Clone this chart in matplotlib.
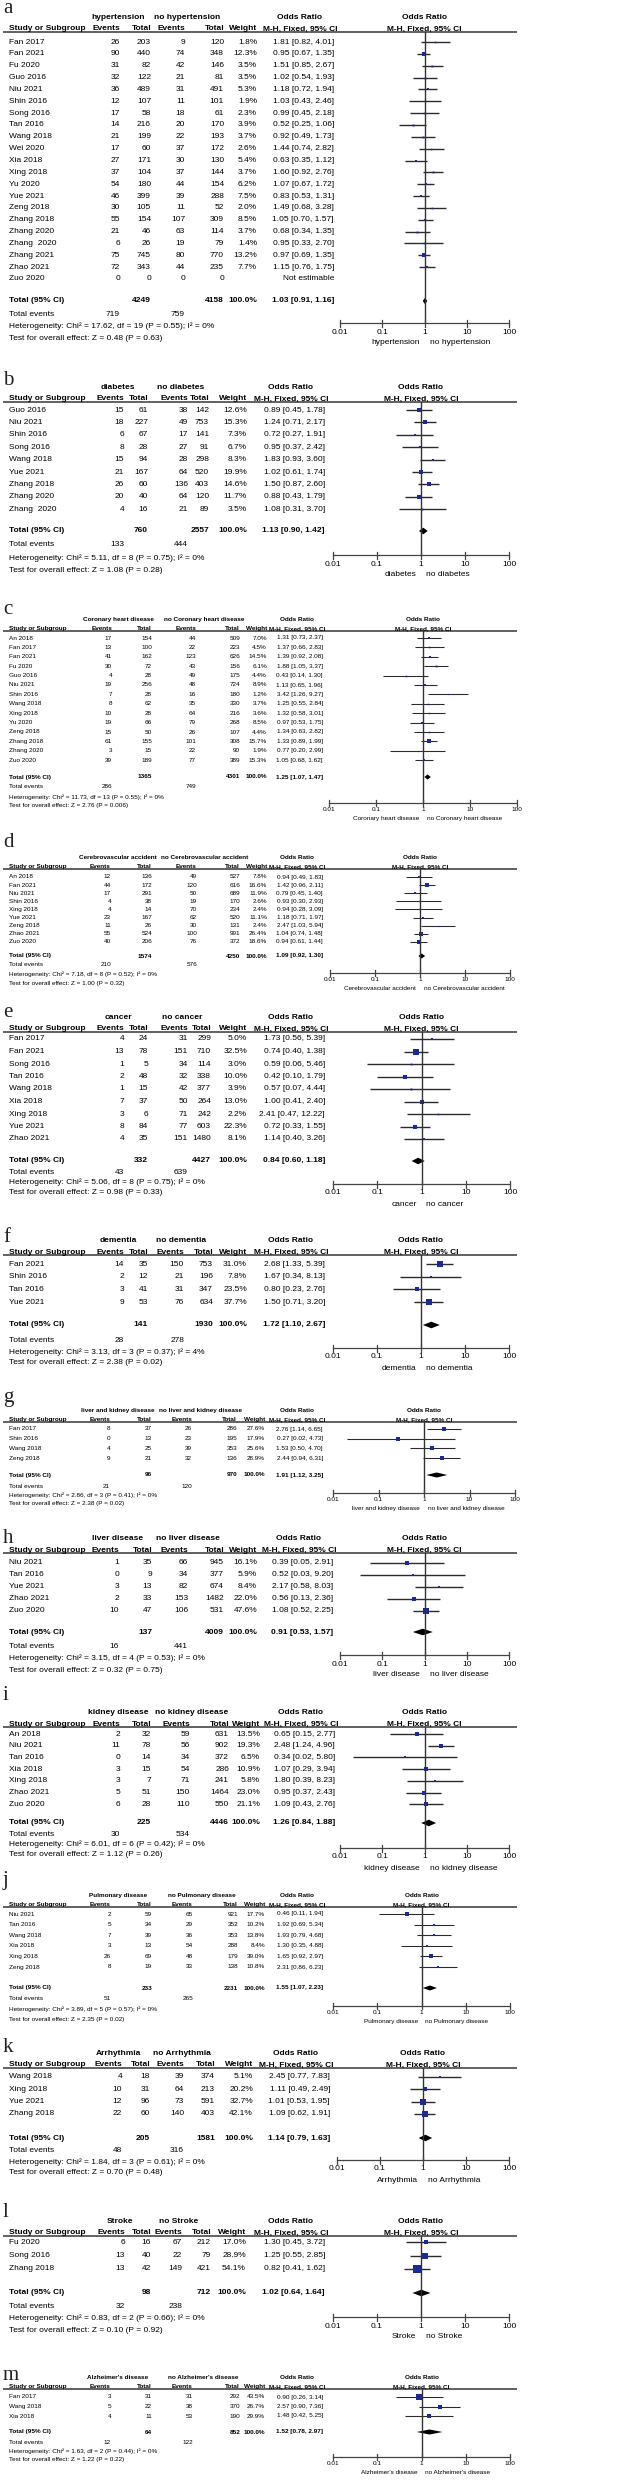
import numpy as np
import matplotlib
matplotlib.use("Agg")
import matplotlib.pyplot as plt
from matplotlib.transforms import offset_copy

W, H = 618, 2480
BLUE = "#1b2a9b"
LINE = "#2b2b2b"
TICKS = [0.01, 0.1, 1, 10, 100]
TICK_LABELS = ["0.01", "0.1", "1", "10", "100"]

# -------------------------------
# data, one block per panel
# row = study, events1, total1, events2, total2, weight %, OR, lower, upper
# -------------------------------
A_GROUPS = ("hypertension", "no hypertension")
A_ROWS = [
    ("Fan 2017", 26, 203, 9, 120, 1.8, 1.81, 0.82, 4.01),
    ("Fan 2021", 90, 440, 74, 348, 12.3, 0.95, 0.67, 1.35),
    ("Fu 2020", 31, 82, 42, 146, 3.5, 1.51, 0.85, 2.67),
    ("Guo 2016", 32, 122, 21, 81, 3.5, 1.02, 0.54, 1.93),
    ("Niu 2021", 36, 489, 31, 491, 5.3, 1.18, 0.72, 1.94),
    ("Shin 2016", 12, 107, 11, 101, 1.9, 1.03, 0.43, 2.46),
    ("Song 2016", 17, 58, 18, 61, 2.3, 0.99, 0.45, 2.18),
    ("Tan 2016", 14, 216, 20, 170, 3.9, 0.52, 0.25, 1.06),
    ("Wang 2018", 21, 199, 22, 193, 3.7, 0.92, 0.49, 1.73),
    ("Wei 2020", 17, 60, 37, 172, 2.6, 1.44, 0.74, 2.82),
    ("Xia 2018", 27, 171, 30, 130, 5.4, 0.63, 0.35, 1.12),
    ("Xing 2018", 37, 104, 37, 144, 3.7, 1.60, 0.92, 2.76),
    ("Yu 2020", 54, 180, 44, 154, 6.2, 1.07, 0.67, 1.72),
    ("Yue 2021", 46, 399, 39, 288, 7.5, 0.83, 0.53, 1.31),
    ("Zeng 2018", 30, 105, 11, 52, 2.0, 1.49, 0.68, 3.28),
    ("Zhang 2018", 55, 154, 107, 309, 8.5, 1.05, 0.70, 1.57),
    ("Zhang 2020", 21, 46, 63, 114, 3.7, 0.68, 0.34, 1.35),
    ("Zhang  2020", 6, 26, 19, 79, 1.4, 0.95, 0.33, 2.70),
    ("Zhang 2021", 75, 745, 80, 770, 13.2, 0.97, 0.69, 1.35),
    ("Zhao 2021", 72, 343, 44, 235, 7.7, 1.15, 0.76, 1.75),
    ("Zuo 2020", 0, 0, 0, 0, None, None, None, None),
]
A_TOTAL = (4249, 4158, 1.03, 0.91, 1.16)
A_EVENTS = (719, 759)
A_HET = (17.62, 19, 0.55, 0)
A_Z = (0.48, 0.63)

B_GROUPS = ("diabetes", "no diabetes")
B_ROWS = [
    ("Guo 2016", 15, 61, 38, 142, 12.6, 0.89, 0.45, 1.78),
    ("Niu 2021", 18, 227, 49, 753, 15.3, 1.24, 0.71, 2.17),
    ("Shin 2016", 6, 67, 17, 141, 7.3, 0.72, 0.27, 1.91),
    ("Song 2016", 8, 28, 27, 91, 6.7, 0.95, 0.37, 2.42),
    ("Wang 2018", 15, 94, 28, 298, 8.3, 1.83, 0.93, 3.60),
    ("Yue 2021", 21, 167, 64, 520, 19.9, 1.02, 0.61, 1.74),
    ("Zhang 2018", 26, 60, 136, 403, 14.6, 1.50, 0.87, 2.60),
    ("Zhang 2020", 20, 40, 64, 120, 11.7, 0.88, 0.43, 1.79),
    ("Zhang  2020", 4, 16, 21, 89, 3.5, 1.08, 0.31, 3.70),
]
B_TOTAL = (760, 2557, 1.13, 0.90, 1.42)
B_EVENTS = (133, 444)
B_HET = (5.11, 8, 0.75, 0)
B_Z = (1.08, 0.28)

C_GROUPS = ("Coronary heart disease", "no Coronary heart disease")
C_ROWS = [
    ("An 2018", 17, 154, 44, 509, 7.0, 1.31, 0.73, 2.37),
    ("Fan 2017", 13, 100, 22, 223, 4.5, 1.37, 0.66, 2.83),
    ("Fan 2021", 41, 162, 123, 626, 14.5, 1.39, 0.92, 2.08),
    ("Fu 2020", 30, 72, 43, 156, 6.1, 1.88, 1.05, 3.37),
    ("Guo 2016", 4, 28, 49, 175, 4.4, 0.43, 0.14, 1.30),
    ("Niu 2021", 19, 256, 48, 724, 8.9, 1.13, 0.65, 1.96),
    ("Shin 2016", 7, 28, 16, 180, 1.2, 3.42, 1.26, 9.27),
    ("Wang 2018", 8, 62, 35, 330, 3.7, 1.25, 0.55, 2.84),
    ("Xing 2018", 10, 28, 64, 216, 3.6, 1.32, 0.58, 3.01),
    ("Yu 2020", 19, 66, 79, 268, 8.5, 0.97, 0.53, 1.75),
    ("Zeng 2018", 15, 50, 26, 107, 4.4, 1.34, 0.63, 2.82),
    ("Zhang 2018", 61, 155, 101, 308, 15.7, 1.33, 0.89, 1.99),
    ("Zhang 2020", 3, 15, 22, 90, 1.9, 0.77, 0.20, 2.99),
    ("Zuo 2020", 39, 189, 77, 389, 15.3, 1.05, 0.68, 1.62),
]
C_TOTAL = (1365, 4301, 1.25, 1.07, 1.47)
C_EVENTS = (286, 749)
C_HET = (11.73, 13, 0.55, 0)
C_Z = (2.76, 0.006)

D_GROUPS = ("Cerebrovascular accident", "no Cerebrovascular accident")
D_ROWS = [
    ("An 2018", 12, 136, 49, 527, 7.8, 0.94, 0.49, 1.83),
    ("Fan 2021", 44, 172, 120, 616, 16.6, 1.42, 0.96, 2.11),
    ("Niu 2021", 17, 291, 50, 689, 11.9, 0.79, 0.45, 1.40),
    ("Shin 2016", 4, 38, 19, 170, 2.6, 0.93, 0.30, 2.93),
    ("Xing 2018", 4, 14, 70, 234, 2.4, 0.94, 0.28, 3.09),
    ("Yue 2021", 23, 167, 62, 520, 11.1, 1.18, 0.71, 1.97),
    ("Zeng 2018", 11, 26, 30, 131, 2.4, 2.47, 1.03, 5.94),
    ("Zhao 2021", 55, 524, 100, 991, 26.4, 1.04, 0.74, 1.48),
    ("Zuo 2020", 40, 206, 76, 372, 18.6, 0.94, 0.61, 1.44),
]
D_TOTAL = (1574, 4250, 1.09, 0.92, 1.30)
D_EVENTS = (210, 576)
D_HET = (7.18, 8, 0.52, 0)
D_Z = (1.00, 0.32)

E_GROUPS = ("cancer", "no cancer")
E_ROWS = [
    ("Fan 2017", 4, 24, 31, 299, 5.0, 1.73, 0.56, 5.39),
    ("Fan 2021", 13, 78, 151, 710, 32.5, 0.74, 0.40, 1.38),
    ("Song 2016", 1, 5, 34, 114, 3.0, 0.59, 0.06, 5.46),
    ("Tan 2016", 2, 48, 32, 338, 10.0, 0.42, 0.10, 1.79),
    ("Wang 2018", 1, 15, 42, 377, 3.9, 0.57, 0.07, 4.44),
    ("Xia 2018", 7, 37, 50, 264, 13.0, 1.00, 0.41, 2.40),
    ("Xing 2018", 3, 6, 71, 242, 2.2, 2.41, 0.47, 12.22),
    ("Yue 2021", 8, 84, 77, 603, 22.3, 0.72, 0.33, 1.55),
    ("Zhao 2021", 4, 35, 151, 1480, 8.1, 1.14, 0.40, 3.26),
]
E_TOTAL = (332, 4427, 0.84, 0.60, 1.18)
E_EVENTS = (43, 639)
E_HET = (5.06, 8, 0.75, 0)
E_Z = (0.98, 0.33)

F_GROUPS = ("dementia", "no dementia")
F_ROWS = [
    ("Fan 2021", 14, 35, 150, 753, 31.0, 2.68, 1.33, 5.39),
    ("Shin 2016", 2, 12, 21, 196, 7.8, 1.67, 0.34, 8.13),
    ("Tan 2016", 3, 41, 31, 347, 23.5, 0.80, 0.23, 2.76),
    ("Yue 2021", 9, 53, 76, 634, 37.7, 1.50, 0.71, 3.20),
]
F_TOTAL = (141, 1930, 1.72, 1.10, 2.67)
F_EVENTS = (28, 278)
F_HET = (3.13, 3, 0.37, 4)
F_Z = (2.38, 0.02)

G_GROUPS = ("liver and kidney disease", "no liver and kidney disease")
G_ROWS = [
    ("Fan 2017", 8, 37, 26, 286, 27.6, 2.76, 1.14, 6.65),
    ("Shin 2016", 0, 13, 23, 195, 17.9, 0.27, 0.02, 4.73),
    ("Wang 2018", 4, 25, 39, 353, 25.6, 1.53, 0.50, 4.70),
    ("Zeng 2018", 9, 21, 32, 136, 28.9, 2.44, 0.94, 6.31),
]
G_TOTAL = (96, 970, 1.91, 1.12, 3.25)
G_EVENTS = (21, 120)
G_HET = (2.86, 3, 0.41, 0)
G_Z = (2.38, 0.02)

H_GROUPS = ("liver disease", "no liver disease")
H_ROWS = [
    ("Niu 2021", 1, 35, 66, 945, 16.1, 0.39, 0.05, 2.91),
    ("Tan 2016", 0, 9, 34, 377, 5.9, 0.52, 0.03, 9.20),
    ("Yue 2021", 3, 13, 82, 674, 8.4, 2.17, 0.58, 8.03),
    ("Zhao 2021", 2, 33, 153, 1482, 22.0, 0.56, 0.13, 2.36),
    ("Zuo 2020", 10, 47, 106, 531, 47.6, 1.08, 0.52, 2.25),
]
H_TOTAL = (137, 4009, 0.91, 0.53, 1.57)
H_EVENTS = (16, 441)
H_HET = (3.15, 4, 0.53, 0)
H_Z = (0.32, 0.75)

I_GROUPS = ("kidney disease", "no kidney disease")
I_ROWS = [
    ("An 2018", 2, 32, 59, 631, 13.5, 0.65, 0.15, 2.77),
    ("Niu 2021", 11, 78, 56, 902, 19.3, 2.48, 1.24, 4.96),
    ("Tan 2016", 0, 14, 34, 372, 6.5, 0.34, 0.02, 5.80),
    ("Xia 2018", 3, 15, 54, 286, 10.9, 1.07, 0.29, 3.94),
    ("Xing 2018", 3, 7, 71, 241, 5.8, 1.80, 0.39, 8.23),
    ("Zhao 2021", 5, 51, 150, 1464, 23.0, 0.95, 0.37, 2.43),
    ("Zuo 2020", 6, 28, 110, 550, 21.1, 1.09, 0.43, 2.76),
]
I_TOTAL = (225, 4446, 1.26, 0.84, 1.88)
I_EVENTS = (30, 534)
I_HET = (6.01, 6, 0.42, 0)
I_Z = (1.12, 0.26)

J_GROUPS = ("Pulmonary disease", "no Pulmonary disease")
J_ROWS = [
    ("Niu 2021", 2, 59, 65, 921, 17.7, 0.46, 0.11, 1.94),
    ("Tan 2016", 5, 34, 29, 352, 10.2, 1.92, 0.69, 5.34),
    ("Wang 2018", 7, 39, 36, 353, 13.8, 1.93, 0.79, 4.68),
    ("Xia 2018", 3, 13, 54, 288, 8.4, 1.30, 0.35, 4.88),
    ("Xing 2018", 26, 69, 48, 179, 39.0, 1.65, 0.92, 2.97),
    ("Zeng 2018", 8, 19, 33, 138, 10.8, 2.31, 0.86, 6.23),
]
J_TOTAL = (233, 2231, 1.55, 1.07, 2.23)
J_EVENTS = (51, 265)
J_HET = (3.89, 5, 0.57, 0)
J_Z = (2.35, 0.02)

K_GROUPS = ("Arrhythmia", "no Arrhythmia")
K_ROWS = [
    ("Wang 2018", 4, 18, 39, 374, 5.1, 2.45, 0.77, 7.83),
    ("Xing 2018", 10, 31, 64, 213, 20.2, 1.11, 0.49, 2.49),
    ("Yue 2021", 12, 96, 73, 591, 32.7, 1.01, 0.53, 1.95),
    ("Zhang 2018", 22, 60, 140, 403, 42.1, 1.09, 0.62, 1.91),
]
K_TOTAL = (205, 1581, 1.14, 0.79, 1.63)
K_EVENTS = (48, 316)
K_HET = (1.84, 3, 0.61, 0)
K_Z = (0.70, 0.48)

L_GROUPS = ("Stroke", "no Stroke")
L_ROWS = [
    ("Fu 2020", 6, 16, 67, 212, 17.0, 1.30, 0.45, 3.72),
    ("Song 2016", 13, 40, 22, 79, 28.9, 1.25, 0.55, 2.85),
    ("Zhang 2018", 13, 42, 149, 421, 54.1, 0.82, 0.41, 1.62),
]
L_TOTAL = (98, 712, 1.02, 0.64, 1.64)
L_EVENTS = (32, 238)
L_HET = (0.83, 2, 0.66, 0)
L_Z = (0.10, 0.92)

M_GROUPS = ("Alzheimer's disease", "no Alzheimer's disease")
M_ROWS = [
    ("Fan 2017", 3, 31, 31, 292, 43.5, 0.90, 0.26, 3.14),
    ("Wang 2018", 5, 22, 38, 370, 26.7, 2.57, 0.90, 7.36),
    ("Xia 2018", 4, 11, 53, 190, 29.9, 1.48, 0.42, 5.25),
]
M_TOTAL = (64, 852, 1.52, 0.78, 2.97)
M_EVENTS = (12, 122)
M_HET = (1.63, 2, 0.44, 0)
M_Z = (1.22, 0.22)

# -------------------------------
# layout (pixel positions, y from top of the image)
# cols = right edges of events1, total1, events2, total2, weight, OR text
# -------------------------------
BIG, SMALL = 6.0, 4.6
LAYOUT = [
    dict(letter="a", lab=13, line=32, row0=42, drow=11.85, tot=301, ev=314, het=326, test=338, axis=323,
         fs=BIG, cols=(120, 151, 185, 224, 257, 334), ax=(340, 509)),
    dict(letter="b", lab=385, line=402, row0=410, drow=12.4, tot=531, ev=545, het=558, test=570, axis=555,
         fs=BIG, cols=(124, 148, 188, 209, 247, 325), ax=(333, 509)),
    dict(letter="c", lab=614, line=631, row0=638, drow=9.4, tot=777, ev=787, het=797, test=806, axis=803,
         fs=SMALL, cols=(112, 152, 196, 240, 267, 323), ax=(329, 517)),
    dict(letter="d", lab=847, line=869, row0=877, drow=8.1, tot=956, ev=965, het=974, test=983, axis=973,
         fs=SMALL, cols=(111, 152, 197, 240, 267, 323), ax=(330, 510)),
    dict(letter="e", lab=1017, line=1032, row0=1039, drow=12.5, tot=1161, ev=1172, het=1182, test=1193, axis=1184,
         fs=BIG, cols=(124, 148, 188, 211, 247, 325), ax=(333, 510)),
    dict(letter="f", lab=1242, line=1255, row0=1264, drow=12.7, tot=1325, ev=1340, het=1352, test=1363, axis=1348,
         fs=BIG, cols=(124, 148, 184, 213, 247, 325), ax=(333, 509)),
    dict(letter="g", lab=1402, line=1422, row0=1429, drow=9.7, tot=1475, ev=1486, het=1495, test=1504, axis=1493,
         fs=SMALL, cols=(110, 152, 192, 237, 265, 323), ax=(333, 515)),
    dict(letter="h", lab=1543, line=1553, row0=1563, drow=12.0, tot=1632, ev=1647, het=1658, test=1670, axis=1655,
         fs=BIG, cols=(119, 152, 188, 224, 257, 333), ax=(340, 509)),
    dict(letter="i", lab=1700, line=1727, row0=1734, drow=11.7, tot=1823, ev=1834, het=1844, test=1854, axis=1848,
         fs=BIG, cols=(120, 151, 190, 229, 260, 335), ax=(340, 509)),
    dict(letter="j", lab=1885, line=1907, row0=1914, drow=10.6, tot=1988, ev=1998, het=2009, test=2020, axis=2006,
         fs=SMALL, cols=(111, 152, 193, 238, 265, 323), ax=(333, 510)),
    dict(letter="k", lab=2052, line=2068, row0=2077, drow=12.3, tot=2138, ev=2150, het=2162, test=2173, axis=2160,
         fs=BIG, cols=(122, 150, 184, 215, 253, 330), ax=(337, 509)),
    dict(letter="l", lab=2217, line=2236, row0=2242, drow=13.5, tot=2293, ev=2307, het=2318, test=2330, axis=2317,
         fs=BIG, cols=(125, 151, 182, 211, 246, 325), ax=(333, 509)),
    dict(letter="m", lab=2380, line=2389, row0=2397, drow=9.5, tot=2432, ev=2442, het=2451, test=2460, axis=2457,
         fs=SMALL, cols=(111, 152, 193, 240, 265, 323), ax=(333, 510)),
]

PANELS = [
    (A_GROUPS, A_ROWS, A_TOTAL, A_EVENTS, A_HET, A_Z),
    (B_GROUPS, B_ROWS, B_TOTAL, B_EVENTS, B_HET, B_Z),
    (C_GROUPS, C_ROWS, C_TOTAL, C_EVENTS, C_HET, C_Z),
    (D_GROUPS, D_ROWS, D_TOTAL, D_EVENTS, D_HET, D_Z),
    (E_GROUPS, E_ROWS, E_TOTAL, E_EVENTS, E_HET, E_Z),
    (F_GROUPS, F_ROWS, F_TOTAL, F_EVENTS, F_HET, F_Z),
    (G_GROUPS, G_ROWS, G_TOTAL, G_EVENTS, G_HET, G_Z),
    (H_GROUPS, H_ROWS, H_TOTAL, H_EVENTS, H_HET, H_Z),
    (I_GROUPS, I_ROWS, I_TOTAL, I_EVENTS, I_HET, I_Z),
    (J_GROUPS, J_ROWS, J_TOTAL, J_EVENTS, J_HET, J_Z),
    (K_GROUPS, K_ROWS, K_TOTAL, K_EVENTS, K_HET, K_Z),
    (L_GROUPS, L_ROWS, L_TOTAL, L_EVENTS, L_HET, L_Z),
    (M_GROUPS, M_ROWS, M_TOTAL, M_EVENTS, M_HET, M_Z),
]


def fmt_p(p):
    return f"{p:.3f}" if p < 0.01 else f"{p:.2f}"


def fmt_or(o, lo, hi):
    return f"{o:.2f} [{lo:.2f}, {hi:.2f}]"


plt.rcParams["font.family"] = ["Liberation Sans", "DejaVu Sans"]

fig = plt.figure(figsize=(W / 100, H / 100), dpi=100)
fig.patch.set_facecolor("white")

# overlay axes in pixel units for the table part
tab = fig.add_axes([0, 0, 1, 1])
tab.set_xlim(0, W)
tab.set_ylim(H, 0)
tab.axis("off")


def draw_panel(L, groups, rows, total, events, het, zt):
    fs = L["fs"]
    s = fs / BIG
    em = fs * 100 / 72
    ev1, n1, ev2, n2, wc, orc = L["cols"]
    line = L["line"]
    hb = line - 1.5 * s          # baseline of column headers
    gb = hb - 11.5 * s           # baseline of group headers
    norm = dict(fontsize=fs, va="center")
    bold = dict(fontsize=fs, fontweight="bold", va="baseline")

    tab.text(3, L["lab"], L["letter"], fontsize=15, family="Liberation Serif",
             va="baseline", color="#222222")

    # headers
    tab.text(9, hb, "Study or Subgroup", ha="left", **bold)
    for x, t in [(ev1, "Events"), (n1, "Total"), (ev2, "Events"), (n2, "Total"), (wc, "Weight")]:
        tab.text(x, hb, t, ha="right", **bold)
    ew = 3.28 * em
    tab.text((ev1 - ew + n1) / 2 - 4 * s, gb, groups[0], ha="center", **bold)
    tab.text((ev2 - ew + n2) / 2 - 4 * s, gb, groups[1], ha="center", **bold)
    hc = orc + 3 * s - 4.45 * em
    tab.text(hc, gb, "Odds Ratio", ha="center", **bold)
    tab.text(hc, hb, "M-H, Fixed, 95% CI", ha="center", **bold)
    tab.plot([3, 517], [line, line], color="#555555", lw=1.3, solid_capstyle="butt")

    # forest area: log x scale, y in image pixels
    ax_l, ax_r = L["ax"]
    top, bot = gb - 12, L["axis"] + 30 * s
    fax = fig.add_axes([ax_l / W, 1 - bot / H, (ax_r - ax_l) / W, (bot - top) / H])
    fax.set_xscale("log")
    fax.set_xlim(0.01, 100)
    fax.set_ylim(bot, top)
    fax.axis("off")
    fax.text(1, gb, "Odds Ratio", ha="center", **bold)
    fax.text(1, hb, "M-H, Fixed, 95% CI", ha="center", **bold)

    lw = 0.9 * s + 0.1
    for i, r in enumerate(rows):
        y = L["row0"] + i * L["drow"]
        name, e1, t1, e2, t2, w, o, lo, hi = r
        tab.text(9, y, name, ha="left", **norm)
        for x, v in [(ev1, e1), (n1, t1), (ev2, e2), (n2, t2)]:
            tab.text(x, y, str(v), ha="right", **norm)
        if o is None:
            tab.text(orc, y, "Not estimable", ha="right", **norm)
            continue
        tab.text(wc, y, f"{w:.1f}%", ha="right", **norm)
        tab.text(orc, y, fmt_or(o, lo, hi), ha="right", **norm)
        fax.plot([lo, hi], [y, y], color=LINE, lw=lw, solid_capstyle="butt", clip_on=False)
        side = max(1.6, 1.0 * np.sqrt(w)) * s
        fax.plot([o], [y], marker="s", ms=side * 0.72, color=BLUE, mec=BLUE, mew=0, ls="none", clip_on=False)

    # pooled row
    ty = L["tot"]
    tb = dict(fontsize=fs, fontweight="bold", va="center")
    tab.text(9, ty, "Total (95% CI)", ha="left", **tb)
    tab.text(n1, ty, str(total[0]), ha="right", **tb)
    tab.text(n2, ty, str(total[1]), ha="right", **tb)
    tab.text(wc, ty, "100.0%", ha="right", **tb)
    tab.text(orc, ty, fmt_or(total[2], total[3], total[4]), ha="right", **tb)
    hh = 3.3 * s
    fax.fill([total[3], total[2], total[4], total[2]], [ty, ty - hh, ty, ty + hh],
             color="black", lw=0, clip_on=False)

    tab.text(9, L["ev"], "Total events", ha="left", **norm)
    tab.text(ev1, L["ev"], str(events[0]), ha="right", **norm)
    tab.text(ev2, L["ev"], str(events[1]), ha="right", **norm)
    chi, df, p, i2 = het
    tab.text(9, L["het"], f"Heterogeneity: Chi\u00b2 = {chi:.2f}, df = {df} (P = {fmt_p(p)}); I\u00b2 = {i2}%",
             ha="left", **norm)
    tab.text(9, L["test"], f"Test for overall effect: Z = {zt[0]:.2f} (P = {fmt_p(zt[1])})", ha="left", **norm)

    # reference line and bottom scale
    ay = L["axis"]
    fax.plot([1, 1], [line, ay], color="#333333", lw=1.0, clip_on=False)
    fax.plot([0.01, 100], [ay, ay], color="#444444", lw=0.9, clip_on=False)
    for t, lab in zip(TICKS, TICK_LABELS):
        fax.plot([t, t], [ay - 3.5 * s, ay + 3.5 * s], color="#444444", lw=0.9, clip_on=False)
        fax.text(t, ay + 9 * s, lab, ha="center", **norm)
    left = offset_copy(fax.transData, fig=fig, x=-5 * s, y=0, units="dots")
    right = offset_copy(fax.transData, fig=fig, x=5 * s, y=0, units="dots")
    fax.text(1, ay + 20 * s, groups[0], ha="right", transform=left, **norm)
    fax.text(1, ay + 20 * s, groups[1], ha="left", transform=right, **norm)


for L, (groups, rows, total, events, het, zt) in zip(LAYOUT, PANELS):
    draw_panel(L, groups, rows, total, events, het, zt)

fig.savefig("out.png", dpi=100, facecolor="white")
plt.close(fig)
